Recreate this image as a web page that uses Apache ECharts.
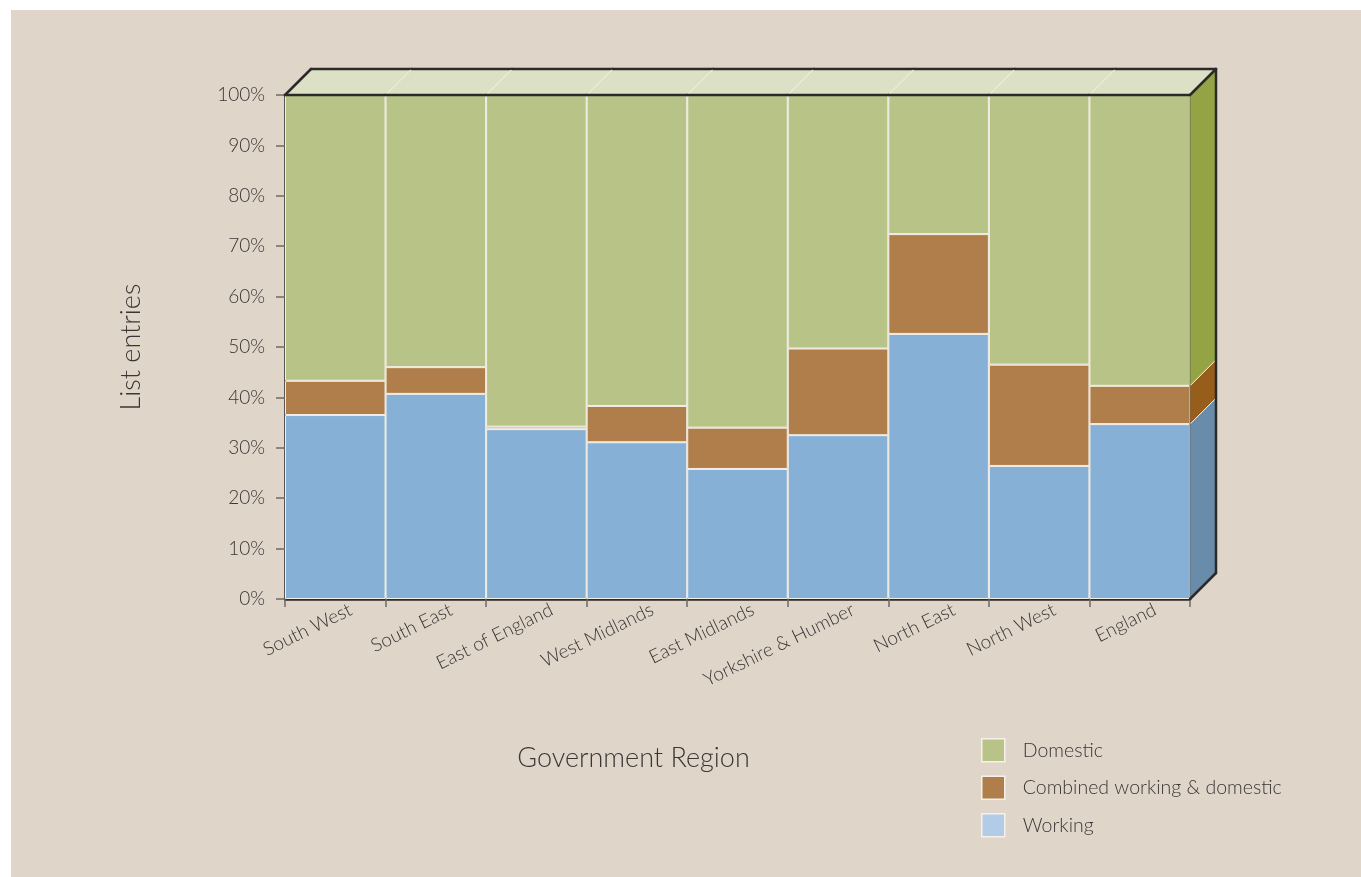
<!DOCTYPE html>
<html>
<head>
<meta charset="utf-8">
<script src="https://cdn.jsdelivr.net/npm/echarts@6/dist/echarts.min.js"></script>
<style>
html,body{margin:0;padding:0;background:#ffffff;}
#chart{width:1361px;height:877px;}
</style>
</head>
<body>
<div id="chart"></div>
<script>
const categories = ['South West','South East','East of England','West Midlands','East Midlands','Yorkshire & Humber','North East','North West','England'];
const working  = [36.5, 40.7, 33.7, 31.1, 25.8, 32.5, 52.6, 26.4, 34.7];
const combined = [6.8, 5.3, 0.5, 7.2, 8.2, 17.2, 19.8, 20.1, 7.6];
const domestic = [56.7, 54.0, 65.8, 61.7, 66.0, 50.3, 27.6, 53.5, 57.7];
const yTicks = [0,10,20,30,40,50,60,70,80,90,100];

const FONT = 'Lato';
const TXT = '#3a3636';
const DEPTH = 26;
const C_WORK = '#86b0d6', C_COMB = '#b07e4b', C_DOM = '#b8c487';
const S_WORK = '#6a8cab', S_COMB = '#975e1b', S_DOM = '#94a444';
const TOP = '#dce1c5';

const faceData = categories.map((c, i) => [i, working[i], combined[i], domestic[i]]);

function renderFaces(params, api) {
  const i = api.value(0);
  const w = api.value(1), cb = api.value(2), d = api.value(3);
  const total = w + cb + d;
  const bw = api.size([1, 0])[0];
  const c100 = api.coord([i, total]);
  const c0 = api.coord([i, 0]);
  const xl = c100[0] - bw / 2, xr = c100[0] + bw / 2;
  const yT = c100[1], y0 = c0[1];
  const yW = api.coord([i, w])[1];
  const yWC = api.coord([i, w + cb])[1];
  const D = DEPTH;
  const ch = [];
  ch.push({type:'polygon', shape:{points:[[xl,yT],[xr,yT],[xr+D,yT-D],[xl+D,yT-D]]}, style:{fill:TOP, stroke:null}});
  if (i > 0) ch.push({type:'line', shape:{x1:xl,y1:yT,x2:xl+D,y2:yT-D}, style:{stroke:'#f6f3ea', lineWidth:1}});
  const blk = {stroke:'#2b2929', lineWidth:2.5, lineCap:'round'};
  ch.push({type:'line', shape:{x1:xl,y1:yT,x2:xr,y2:yT}, style:blk});
  ch.push({type:'line', shape:{x1:xl+D,y1:yT-D,x2:xr+D,y2:yT-D}, style:blk});
  if (i === 0) ch.push({type:'line', shape:{x1:xl,y1:yT,x2:xl+D,y2:yT-D}, style:blk});
  if (i === categories.length - 1) {
    ch.push({type:'polygon', shape:{points:[[xr,y0],[xr+D,y0-D],[xr+D,yW-D],[xr,yW]]}, style:{fill:S_WORK}});
    ch.push({type:'polygon', shape:{points:[[xr,yW],[xr+D,yW-D],[xr+D,yWC-D],[xr,yWC]]}, style:{fill:S_COMB}});
    ch.push({type:'polygon', shape:{points:[[xr,yWC],[xr+D,yWC-D],[xr+D,yT-D],[xr,yT]]}, style:{fill:S_DOM}});
    ch.push({type:'line', shape:{x1:xr,y1:yW,x2:xr+D,y2:yW-D}, style:{stroke:'#f6f3ea', lineWidth:1}});
    ch.push({type:'line', shape:{x1:xr,y1:yWC,x2:xr+D,y2:yWC-D}, style:{stroke:'#f6f3ea', lineWidth:1}});
    ch.push({type:'line', shape:{x1:xr,y1:y0,x2:xr,y2:yT}, style:{stroke:'#6d6a63', lineWidth:1}});
    ch.push({type:'line', shape:{x1:xr+D,y1:yT-D,x2:xr+D,y2:y0-D}, style:blk});
    ch.push({type:'line', shape:{x1:xr,y1:y0,x2:xr+D,y2:y0-D}, style:blk});
    ch.push({type:'line', shape:{x1:xr,y1:yT,x2:xr+D,y2:yT-D}, style:blk});
  }
  return {type:'group', children:ch};
}

const chart = echarts.init(document.getElementById('chart'), null, {renderer:'canvas'});
chart.setOption({
  backgroundColor: '#ffffff',
  animation: false,
  graphic: [{type:'rect', left:11, top:10, shape:{width:1350, height:867}, style:{fill:'#e0d5c9'}, z:-10, silent:true}],
  grid: {left:285, right:171, top:95, bottom:278},
  legend: {
    orient:'vertical', left:976, top:733, itemWidth:23, itemHeight:23, itemGap:13,
    icon:'rect',
    textStyle:{fontFamily:FONT, fontSize:19.5, color:TXT, fontWeight:300, padding:[0,0,0,13]},
    data:[
      {name:'Domestic', itemStyle:{color:C_DOM, borderColor:'#f5f1ea', borderWidth:1.5}},
      {name:'Combined working & domestic', itemStyle:{color:C_COMB, borderColor:'#f5f1ea', borderWidth:1.5}},
      {name:'Working', itemStyle:{color:'#b2cce8', borderColor:'#f5f1ea', borderWidth:1.5}}
    ]
  },
  xAxis: {
    type:'category', data:categories,
    name:'Government Region', nameLocation:'middle', nameGap:146,
    nameTextStyle:{fontFamily:FONT, fontSize:27, color:TXT, fontWeight:300, padding:[0,208,0,0]},
    axisLine:{lineStyle:{color:'#2b2929', width:2.5}},
    axisTick:{show:true, length:8, interval:0, lineStyle:{color:'#6d6a63', width:1.5}},
    axisLabel:{interval:0, rotate:26, margin:17, fontFamily:FONT, fontSize:19, color:TXT, fontWeight:300, padding:[0,-17,0,0]},
    splitLine:{show:false}
  },
  yAxis: {
    type:'value', min:0, max:100, interval:10,
    name:'List entries', nameLocation:'middle', nameGap:140, nameRotate:90,
    nameTextStyle:{fontFamily:FONT, fontSize:27, color:TXT, fontWeight:300},
    axisLine:{show:true, lineStyle:{color:'#2b2929', width:2.5}},
    axisTick:{show:true, length:9, lineStyle:{color:'#6d6a63', width:1.5}},
    axisLabel:{formatter: v => yTicks.includes(v) ? v + '%' : '', margin:20, fontFamily:FONT, fontSize:19, color:TXT, fontWeight:300},
    splitLine:{show:false}
  },
  series: [
    {name:'Working', type:'bar', stack:'all', data:working, barCategoryGap:'0%',
     itemStyle:{color:C_WORK, borderColor:'#f3efe7', borderWidth:1}},
    {name:'Combined working & domestic', type:'bar', stack:'all', data:combined, barCategoryGap:'0%',
     itemStyle:{color:C_COMB, borderColor:'#f3efe7', borderWidth:1}},
    {name:'Domestic', type:'bar', stack:'all', data:domestic, barCategoryGap:'0%',
     itemStyle:{color:C_DOM, borderColor:'#f3efe7', borderWidth:1}},
    {name:'faces', type:'custom', data:faceData, renderItem:renderFaces, z:5, silent:true,
     encode:{x:0, y:[1,2,3]}}
  ]
});
</script>
</body>
</html>
